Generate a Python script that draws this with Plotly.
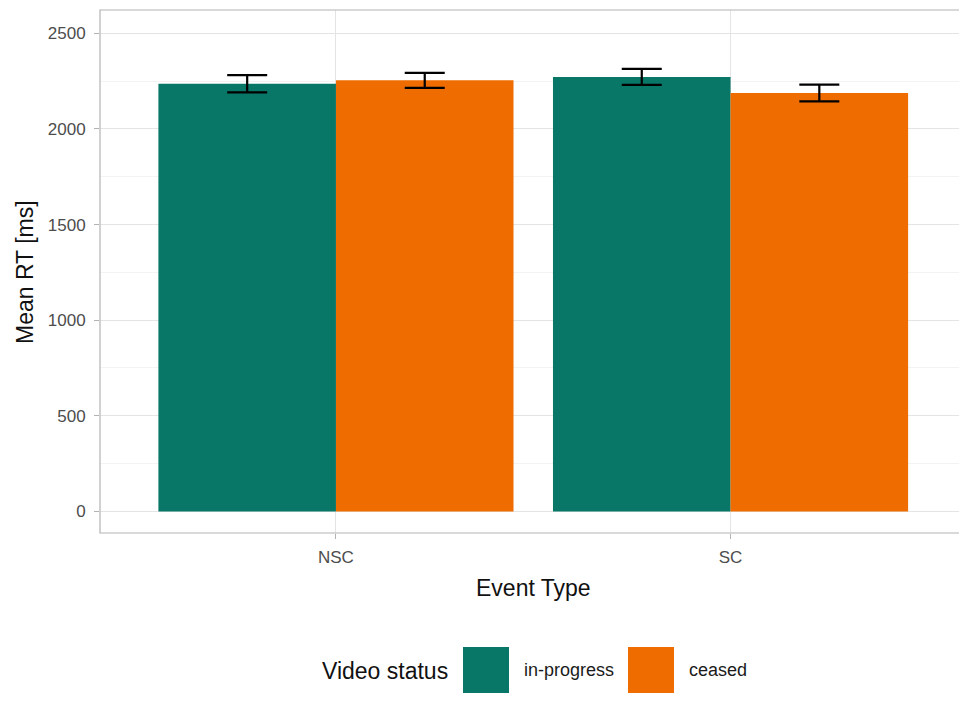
import plotly.graph_objects as go

# Mean reaction times by event type and video status
event_types = ["NSC", "SC"]
status_labels = ["in-progress", "ceased"]
mean_rt_in_progress = [2236, 2272]
mean_rt_ceased = [2254, 2188]
err_in_progress = [45, 42]
err_ceased = [39, 44]

colors = {"in-progress": "#087767", "ceased": "#EE6C00"}

W, H = 959, 724
L, T, B = 100, 10, 191
plot_w = W - L
plot_h = H - T - B
FONT = "Liberation Sans, Arial, sans-serif"


def px_x(px):
    return (px - L) / plot_w


def px_y(py):
    return (H - B - py) / plot_h


fig = go.Figure()
for name, vals, errs in [
    ("in-progress", mean_rt_in_progress, err_in_progress),
    ("ceased", mean_rt_ceased, err_ceased),
]:
    fig.add_trace(go.Bar(
        x=event_types, y=vals, name=name,
        marker=dict(color=colors[name], line=dict(width=0)),
        error_y=dict(type="data", array=errs, visible=True,
                     color="black", thickness=2.2, width=20),
        showlegend=False,
    ))

shapes = [
    # panel border (right side runs past the page edge)
    dict(type="rect", xref="paper", yref="paper", x0=0, x1=1.05, y0=0, y1=1,
         line=dict(color="#b3b3b3", width=1.2), layer="above"),
]
annotations = [
    dict(text="Event Type", xref="paper", yref="paper", x=px_x(533), y=px_y(588),
         showarrow=False, font=dict(family=FONT, size=23, color="#111111"),
         xanchor="center", yanchor="middle"),
    dict(text="Mean RT [ms]", xref="paper", yref="paper", x=px_x(25), y=px_y(272),
         showarrow=False, textangle=-90, font=dict(family=FONT, size=23, color="#111111"),
         xanchor="center", yanchor="middle"),
    dict(text="Video status", xref="paper", yref="paper", x=px_x(320), y=px_y(671),
         showarrow=False, font=dict(family=FONT, size=23, color="#111111"),
         xanchor="left", yanchor="middle"),
]

# legend keys
key_x = {"in-progress": 463, "ceased": 628}
for name in status_labels:
    x0 = key_x[name]
    shapes.append(dict(type="rect", xref="paper", yref="paper",
                       x0=px_x(x0), x1=px_x(x0 + 46), y0=px_y(693), y1=px_y(647),
                       fillcolor=colors[name], line=dict(width=0)))
    annotations.append(dict(text=name, xref="paper", yref="paper",
                            x=px_x(x0 + 59), y=px_y(670), showarrow=False,
                            font=dict(family=FONT, size=18, color="#1a1a1a"),
                            xanchor="left", yanchor="middle"))

fig.update_layout(
    width=W, height=H,
    margin=dict(l=L, r=0, t=T, b=B, autoexpand=False),
    paper_bgcolor="white", plot_bgcolor="white",
    barmode="group", bargap=0.1, bargroupgap=0,
    font=dict(family=FONT),
    shapes=shapes, annotations=annotations,
    xaxis=dict(
        type="category", range=[-0.598, 1.579],
        showgrid=True, gridcolor="#e4e4e4", gridwidth=1.2,
        ticks="outside", ticklen=5, tickcolor="#b3b3b3", tickwidth=1.2,
        ticklabelstandoff=4,
        tickfont=dict(family=FONT, size=17, color="#4d4d4d"),
        showline=False, zeroline=False, fixedrange=True,
    ),
    yaxis=dict(
        range=[-113, 2622], tickvals=[0, 500, 1000, 1500, 2000, 2500],
        showgrid=True, gridcolor="#e4e4e4", gridwidth=1.2,
        minor=dict(dtick=250, tick0=0, showgrid=True, gridcolor="#f3f3f3", gridwidth=0.6),
        ticks="outside", ticklen=5, tickcolor="#b3b3b3", tickwidth=1.2,
        ticklabelstandoff=5,
        tickfont=dict(family=FONT, size=17, color="#4d4d4d"),
        showline=False, zeroline=False, fixedrange=True,
    ),
)

fig.write_html("out.html")
